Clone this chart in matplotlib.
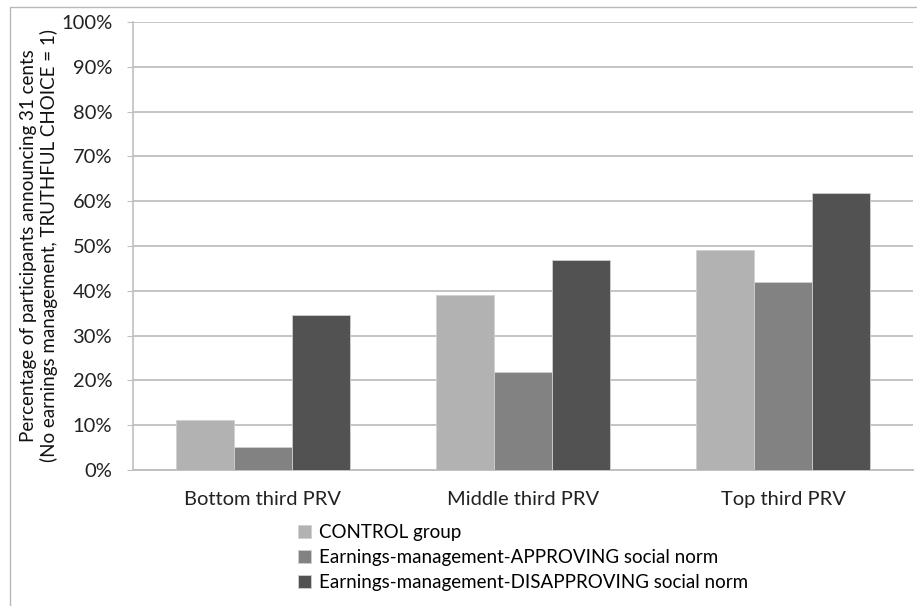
import numpy as np
import matplotlib.pyplot as plt
from matplotlib.patches import Rectangle

plt.rcParams['font.family'] = ['Lato', 'DejaVu Sans']

categories = ["Bottom third PRV", "Middle third PRV", "Top third PRV"]
series_names = ["CONTROL group",
                 "Earnings-management-APPROVING social norm",
                 "Earnings-management-DISAPPROVING social norm"]
control = [11.1, 39.0, 49.1]
approving = [5.2, 21.8, 41.9]
disapproving = [34.6, 46.8, 61.9]
colors = ["#b2b2b2", "#828282", "#525252"]

fig = plt.figure(figsize=(9.17, 6.06), dpi=100)
ax = fig.add_axes([133/917, 1-470/606, 780/917, 448/606])

x = np.arange(len(categories))
w = 0.222
for i, (vals, c, name) in enumerate(zip([control, approving, disapproving], colors, series_names)):
    ax.bar(x + (i-1)*w, vals, w, color=c, edgecolor="#d0d0d0", linewidth=0.6, label=name, zorder=3)

ax.set_xlim(-0.5, 2.5)
ax.set_ylim(0, 100)
ax.set_yticks(np.arange(0, 101, 10))
ax.set_yticklabels([f"{v}%" for v in range(0, 101, 10)], fontsize=14.5, color="#222222")
ax.set_xticks(x)
ax.set_xticklabels(categories, fontsize=14.5, color="#222222")
ax.tick_params(axis='y', length=4.5, color="#c0c0c0", pad=10.5)
ax.tick_params(axis='x', length=0, pad=15)
ax.grid(axis='y', color="#c4c4c4", linewidth=1.4, zorder=0)
for s in ["top", "right"]:
    ax.spines[s].set_visible(False)
ax.spines["left"].set_color("#c0c0c0")
ax.spines["bottom"].set_color("#c0c0c0")
ax.spines["left"].set_linewidth(1.2)
ax.spines["bottom"].set_linewidth(1.4)

fig.text(39/917, 1-246/606,
         "Percentage of participants announcing 31 cents\n(No earnings management, TRUTHFUL CHOICE = 1)",
         rotation=90, ha='center', va='center', fontsize=13.5,
         linespacing=1.15, color="#111111")

fig.legend(loc='upper left', bbox_to_anchor=(298/917, 1-524/606), frameon=False,
           fontsize=13.5, handlelength=0.7, handleheight=0.7, handletextpad=0.4,
           labelspacing=0.42, borderaxespad=0, borderpad=0)

fig.patches.append(Rectangle((10/917, -0.02), 1.0, 1-7/606+0.02, transform=fig.transFigure,
                             fill=False, edgecolor="#b8b8b8", linewidth=1.0))

fig.savefig("out.png", dpi=100)
